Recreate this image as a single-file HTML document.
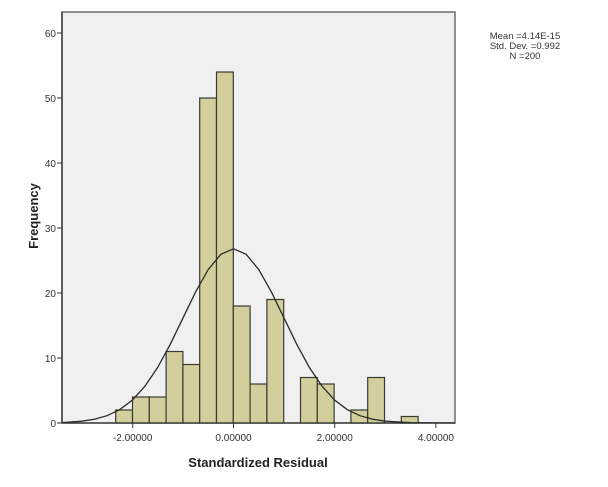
<!DOCTYPE html>
<html><head><meta charset="utf-8"><style>
html,body{margin:0;padding:0;background:#fff;}
svg{display:block;font-family:"Liberation Sans",Arial,sans-serif;}
</style></head><body>
<svg width="608" height="487" viewBox="0 0 608 487" xmlns="http://www.w3.org/2000/svg">
<rect x="62" y="12" width="393" height="411" fill="#f0f0f0" stroke="#6e6e6e" stroke-width="1.5"/>
<g fill="#d3cf9c" stroke="#3a3a32" stroke-width="1.2">
<rect x="115.7" y="410" width="16.8" height="13"/>
<rect x="132.5" y="397" width="16.8" height="26"/>
<rect x="149.3" y="397" width="16.8" height="26"/>
<rect x="166.1" y="351.5" width="16.8" height="71.5"/>
<rect x="182.9" y="364.5" width="16.8" height="58.5"/>
<rect x="199.7" y="98" width="16.8" height="325"/>
<rect x="216.5" y="72" width="16.8" height="351"/>
<rect x="233.3" y="306" width="16.8" height="117"/>
<rect x="250.1" y="384" width="16.8" height="39"/>
<rect x="266.9" y="299.5" width="16.8" height="123.5"/>
<rect x="300.5" y="377.5" width="16.8" height="45.5"/>
<rect x="317.3" y="384" width="16.8" height="39"/>
<rect x="350.9" y="410" width="16.8" height="13"/>
<rect x="367.7" y="377.5" width="16.8" height="45.5"/>
<rect x="401.3" y="416.5" width="16.8" height="6.5"/>
</g>
<polyline fill="none" stroke="#2a2a2a" stroke-width="1.3" points="62,422.6 81.7,421.2 94.35,419.3 107,415.7 119.65,409.7 132.3,400.2 144.95,386.2 157.6,367.5 170.25,344.3 182.9,318.2 195.55,292.1 208.2,269.6 220.85,254.3 233.5,248.8 246.15,254.3 258.8,269.6 271.45,292.1 284.1,318.2 296.75,344.3 309.4,367.5 322.05,386.2 334.7,400.2 347.35,409.7 360,415.7 372.65,419.3 385.3,421.2 410.6,422.65 455,423"/>
<line x1="62" y1="423" x2="455" y2="423" stroke="#333" stroke-width="1.3"/>
<line x1="62" y1="12" x2="62" y2="423" stroke="#333" stroke-width="1.3"/>
<g stroke="#333" stroke-width="1">
<line x1="57" y1="33" x2="62" y2="33"/><line x1="57" y1="98" x2="62" y2="98"/><line x1="57" y1="163" x2="62" y2="163"/><line x1="57" y1="228" x2="62" y2="228"/><line x1="57" y1="293" x2="62" y2="293"/><line x1="57" y1="358" x2="62" y2="358"/><line x1="57" y1="423" x2="62" y2="423"/>
<line x1="132.7" y1="423" x2="132.7" y2="428"/><line x1="233.5" y1="423" x2="233.5" y2="428"/><line x1="334.7" y1="423" x2="334.7" y2="428"/><line x1="435.9" y1="423" x2="435.9" y2="428"/>
</g>
<g font-size="10" fill="#333" text-anchor="end">
<text x="56" y="37">60</text><text x="56" y="102">50</text><text x="56" y="167">40</text><text x="56" y="232">30</text><text x="56" y="297">20</text><text x="56" y="362">10</text><text x="56" y="427">0</text>
</g>
<g font-size="10" fill="#333" text-anchor="middle">
<text x="132.7" y="441">-2.00000</text><text x="233.5" y="441">0.00000</text><text x="334.7" y="441">2.00000</text><text x="435.9" y="441">4.00000</text>
</g>
<text x="258" y="467" font-size="13" font-weight="bold" fill="#222" text-anchor="middle">Standardized Residual</text>
<text transform="translate(38,216) rotate(-90)" font-size="13" font-weight="bold" fill="#222" text-anchor="middle">Frequency</text>
<g font-size="9.5" fill="#333" text-anchor="middle">
<text x="525" y="39">Mean =4.14E-15</text><text x="525" y="49">Std. Dev. =0.992</text><text x="525" y="59">N =200</text>
</g>
</svg>
</body></html>
